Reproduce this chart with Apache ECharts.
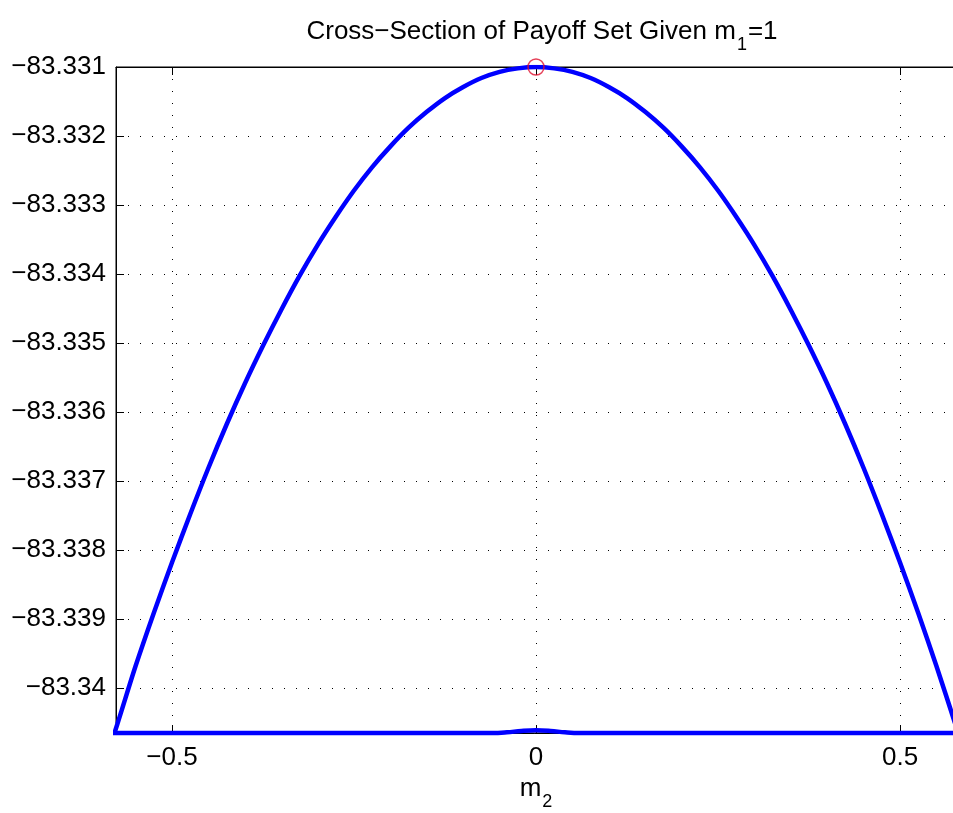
<!DOCTYPE html>
<html><head><meta charset="utf-8">
<script src="https://cdn.jsdelivr.net/npm/echarts@6/dist/echarts.min.js"></script>
<style>html,body{margin:0;padding:0;background:#fff}#c{width:953px;height:813px}</style>
</head><body><div id="c"></div>
<script>
// Upper boundary of the cross-section
const curveX = [-0.6,-0.575,-0.55,-0.525,-0.5,-0.475,-0.45,-0.425,-0.4,-0.375,-0.35,-0.325,-0.3,-0.275,-0.25,-0.225,-0.2,-0.175,-0.15,-0.125,-0.1,-0.075,-0.05,-0.025,0,
                0.025,0.05,0.075,0.1,0.125,0.15,0.175,0.2,0.225,0.25,0.275,0.3,0.325,0.35,0.375,0.4,0.425,0.45,0.475,0.5,0.525,0.55,0.575,0.6];
const curveY = [-83.34133,-83.34052,-83.33968,-83.33891,-83.33818,-83.33748,-83.33681,-83.33618,-83.33559,-83.33504,-83.33452,-83.33403,-83.33358,-83.33317,-83.33279,-83.33245,-83.33215,-83.33188,-83.33165,-83.33145,-83.33129,-83.33116,-83.33107,-83.33102,-83.33100,
                -83.33102,-83.33107,-83.33116,-83.33129,-83.33145,-83.33165,-83.33188,-83.33215,-83.33245,-83.33279,-83.33317,-83.33358,-83.33403,-83.33452,-83.33504,-83.33559,-83.33618,-83.33681,-83.33748,-83.33818,-83.33891,-83.33968,-83.34049,-83.34133];
// Lower boundary (lies on the bottom edge, with a small bump at 0)
const baseX = [-0.577,-0.3,-0.06,-0.04,-0.02,0,0.02,0.04,0.06,0.3,0.6];
const baseY = [-83.34065,-83.34065,-83.34065,-83.34064,-83.34062,-83.34061,-83.34062,-83.34064,-83.34065,-83.34065,-83.34065];
// Optimum marker
const optX = [0];
const optY = [-83.331];
// Ticks
const xTicks = [-0.5, 0, 0.5];
const yTicks = [-83.34,-83.339,-83.338,-83.337,-83.336,-83.335,-83.334,-83.333,-83.332,-83.331];
const xMin = -0.5769, xMax = 0.5769, yMin = -83.34065, yMax = -83.331;

const FONT = '"Liberation Sans", Arial, Helvetica, sans-serif';
const fmt = v => String(parseFloat(Number(v).toFixed(3))).replace('-', '\u2212');
const dotted = {color:'#000', width:1, type:[1,11]};

const chart = echarts.init(document.getElementById('c'), null, {renderer:'canvas'});
chart.setOption({
  animation:false,
  backgroundColor:'#fff',
  title:{
    text:'Cross\u2212Section of Payoff Set Given m{s|1}=1',
    left:537, textAlign:'center', top:5,
    textStyle:{fontFamily:FONT, fontSize:26, fontWeight:'normal', color:'#000',
      rich:{s:{fontFamily:FONT, fontSize:18, padding:[26,1,0,1], color:'#000'}}}
  },
  grid:{left:116, top:67, width:840, height:666, containLabel:false, outerBoundsMode:'none',
        show:true, borderColor:'#000', borderWidth:1, backgroundColor:'transparent'},
  xAxis:[{
    type:'value', min:xMin, max:xMax, position:'bottom',
    name:'{m|m}{s|2}', nameLocation:'middle', nameGap:33,
    nameTextStyle:{fontFamily:FONT, fontSize:26, color:'#000',
      rich:{m:{fontFamily:FONT, fontSize:26, color:'#000'}, s:{fontFamily:FONT, fontSize:18, padding:[26,0,0,1], color:'#000'}}},
    axisLine:{show:true, onZero:false, lineStyle:{color:'#000', width:1}},
    axisTick:{show:true, inside:true, length:8, customValues:xTicks, lineStyle:{color:'#000'}},
    axisLabel:{show:true, customValues:xTicks, margin:12, fontFamily:FONT, fontSize:26, color:'#000', formatter:fmt},
    splitLine:{show:true, lineStyle:dotted}
  },{
    type:'value', min:xMin, max:xMax, position:'top',
    axisLine:{show:true, onZero:false, lineStyle:{color:'#000', width:1}},
    axisTick:{show:true, inside:true, length:8, customValues:xTicks, lineStyle:{color:'#000'}},
    axisLabel:{show:false}, splitLine:{show:false}
  }],
  yAxis:[{
    type:'value', min:yMin, max:yMax, scale:true,
    axisLine:{show:true, onZero:false, lineStyle:{color:'#000', width:1}},
    axisTick:{show:true, inside:true, length:8, customValues:yTicks, lineStyle:{color:'#000'}},
    axisLabel:{show:true, customValues:yTicks, margin:10, fontFamily:FONT, fontSize:26, color:'#000', formatter:fmt},
    splitLine:{show:true, lineStyle:dotted}
  }],
  series:[
    {type:'line', data:baseX.map((x,i)=>[x, baseY[i]]), smooth:0.4, showSymbol:false, clip:false,
     lineStyle:{color:'#0000ff', width:4.5}, z:3},
    {type:'line', data:curveX.map((x,i)=>[x, curveY[i]]), smooth:0.3, showSymbol:false, clip:true,
     lineStyle:{color:'#0000ff', width:4.5}, z:3},
    {type:'scatter', data:optX.map((x,i)=>[x, optY[i]]), symbol:'circle', symbolSize:16, clip:false,
     itemStyle:{color:'rgba(0,0,0,0)', borderColor:'#e0102e', borderWidth:1.5}, z:5}
  ]
});
</script></body></html>
